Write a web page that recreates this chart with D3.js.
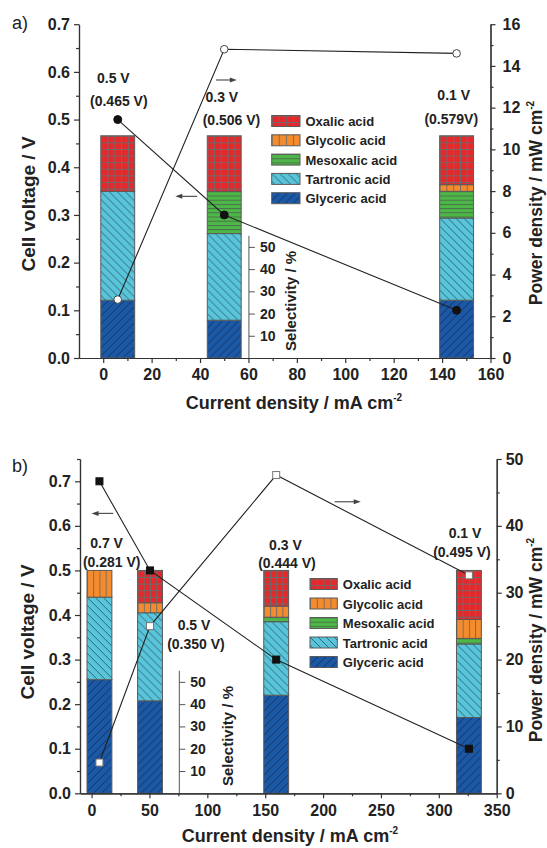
<!DOCTYPE html>
<html><head><meta charset="utf-8">
<script src="https://cdn.jsdelivr.net/npm/d3@7"></script>
<style>
body{margin:0;background:#fff}
text{font-family:"Liberation Sans",Arial,Helvetica,sans-serif;fill:#222}
</style>
</head><body>
<svg id="c" width="547" height="848"></svg>
<script>
// ---------------- DATA ----------------
const acidNames = ["Glyceric acid","Tartronic acid","Mesoxalic acid","Glycolic acid","Oxalic acid"];
const legendOrder = ["Oxalic acid","Glycolic acid","Mesoxalic acid","Tartronic acid","Glyceric acid"];

// Panel a
const aCurrent   = [6, 50, 146];          // mA cm-2
const aVoltage   = [0.5, 0.3, 0.1];       // V
const aPower     = [2.8, 14.8, 14.6];     // mW cm-2
const aGlyceric  = [26, 17, 26];          // selectivity %
const aTartronic = [49, 39, 37];
const aMesoxalic = [0, 19, 12];
const aGlycolic  = [0, 0, 3];
const aOxalic    = [25, 25, 22];
const aLabel1    = ["0.5 V", "0.3 V", "0.1 V"];
const aLabel2    = ["(0.465 V)", "(0.506 V)", "(0.579V)"];
const aLabelX    = [4.2, 49, 144.8];
const aLabelV    = [0.577, 0.537, 0.541];
const aLabel2X   = [6.45, 53, 143.8];
const aXTicks    = [0, 20, 40, 60, 80, 100, 120, 140, 160];
const aYTicks    = [0.0, 0.1, 0.2, 0.3, 0.4, 0.5, 0.6, 0.7];
const aY2Ticks   = [0, 2, 4, 6, 8, 10, 12, 14, 16];

// Panel b
const bCurrent   = [6.8, 50.5, 159.5, 326];
const bVoltage   = [0.7, 0.5, 0.3, 0.1];
const bPower     = [4.6, 25, 47.6, 32.6];
const bGlyceric  = [51, 41.5, 44, 34];
const bTartronic = [37, 39.5, 33, 33];
const bMesoxalic = [0, 0, 2, 2.5];
const bGlycolic  = [12, 4.5, 5, 8.5];
const bOxalic    = [0, 14.5, 16, 22];
const bLabel1    = ["0.7 V", "0.5 V", "0.3 V", "0.1 V"];
const bLabel2    = ["(0.281 V)", "(0.350 V)", "(0.444 V)", "(0.495 V)"];
const bLabelX    = [13, 88.5, 167.5, 322.6];
const bLabelV    = [0.55, 0.366, 0.546, 0.572];
const bLabel2X   = [17.4, 90.2, 168.8, 320];
const bXTicks    = [0, 50, 100, 150, 200, 250, 300, 350];
const bYTicks    = [0.0, 0.1, 0.2, 0.3, 0.4, 0.5, 0.6, 0.7];
const bY2Ticks   = [0, 10, 20, 30, 40, 50];

const selTicks = [10, 20, 30, 40, 50];

// ---------------- STYLE ----------------
const acidStyle = {
  "Glyceric acid":  {color:"#1b58a6", hatch:"fslash"},
  "Tartronic acid": {color:"#58c5da", hatch:"bslash"},
  "Mesoxalic acid": {color:"#4db848", hatch:"horiz"},
  "Glycolic acid":  {color:"#f48b2c", hatch:"vert"},
  "Oxalic acid":    {color:"#e5282b", hatch:"grid"}
};

const svg = d3.select("#c");
const defs = svg.append("defs");
let pidCount = 0;
function makePattern(acid, ox, oy, cell){
  const st = acidStyle[acid];
  const id = "pt" + (pidCount++);
  let w = 8, h = 8;
  if (st.hatch === "grid") { w = cell; h = 6.6; }
  if (st.hatch === "vert") { w = cell; h = 10; }
  if (st.hatch === "horiz") { w = 10; h = 4.2; }
  const p = defs.append("pattern").attr("id", id)
    .attr("patternUnits","userSpaceOnUse")
    .attr("x", ox).attr("y", oy).attr("width", w).attr("height", h);
  p.append("rect").attr("width", w).attr("height", h).attr("fill", st.color);
  let d = "", stroke = "#6b6b6b", sw = 0.9;
  if (st.hatch === "grid") d = `M0,0.5H${w}M0.5,0V${h}`;
  if (st.hatch === "vert") d = `M0.5,0V${h}`;
  if (st.hatch === "horiz") { d = `M0,0.5H${w}`; stroke = "#4a6a4a"; }
  if (st.hatch === "bslash") { d = "M0,0L8,8M-2,6L2,10M6,-2L10,2"; stroke = "#2f4f5a"; sw = 0.8; }
  if (st.hatch === "fslash") { d = "M0,8L8,0M-2,2L2,-2M6,10L10,6"; stroke = "#10284a"; sw = 0.8; }
  p.append("path").attr("d", d).attr("stroke", stroke).attr("stroke-width", sw).attr("fill","none");
  return id;
}

function drawPanel(P){
  const g = svg.append("g");
  const x  = d3.scaleLinear().domain(P.xDomain).range([P.left, P.right]);
  const y  = d3.scaleLinear().domain(P.yDomain).range([P.bottom, P.top]);
  const y2 = d3.scaleLinear().domain(P.y2Domain).range([P.bottom, P.top]);
  const s  = d3.scaleLinear().domain([0, 100]).range([P.bottom, y(P.barTopV)]);

  // bars
  P.current.forEach((c, i) => {
    const x0 = x(c - P.barW/2), x1 = x(c + P.barW/2);
    let cum = 0;
    acidNames.forEach((acid, k) => {
      const v = P.sel[k][i];
      if (!v) return;
      const yt = s(cum + v), yb = s(cum);
      cum += v;
      const pid = makePattern(acid, x0, yt, (x1 - x0) / P.cells);
      g.append("rect").attr("x", x0).attr("y", yt).attr("width", x1 - x0).attr("height", yb - yt)
        .attr("fill", `url(#${pid})`).attr("stroke", "#5a5a5a").attr("stroke-width", 1);
    });
  });

  const axisStyle = sel => {
    sel.selectAll("path,line").attr("stroke", "#333").attr("stroke-width", 1.2);
    sel.selectAll("text").attr("font-size", 16).attr("font-weight", "bold").attr("fill", "#222");
  };
  const minor = (ticks) => { const m = []; for (let i = 0; i < ticks.length - 1; i++) m.push((ticks[i] + ticks[i+1]) / 2); return m; };

  // x axis
  g.append("g").attr("transform", `translate(0,${P.bottom})`)
    .call(d3.axisBottom(x).tickValues(minor(P.xTicks).concat(P.extraXMinor)).tickSize(3).tickFormat("").tickSizeOuter(0)).call(axisStyle);
  g.append("g").attr("transform", `translate(0,${P.bottom})`)
    .call(d3.axisBottom(x).tickValues(P.xTicks).tickSize(5).tickPadding(6).tickFormat(d3.format("d")).tickSizeOuter(0)).call(axisStyle);
  // left axis
  g.append("g").attr("transform", `translate(${P.left},0)`)
    .call(d3.axisLeft(y).tickValues(minor(P.yTicks).concat(P.extraYMinor)).tickSize(3).tickFormat("").tickSizeOuter(0)).call(axisStyle);
  g.append("g").attr("transform", `translate(${P.left},0)`)
    .call(d3.axisLeft(y).tickValues(P.yTicks).tickSize(5).tickPadding(4).tickFormat(d3.format(".1f")).tickSizeOuter(0)).call(axisStyle);
  // right axis
  g.append("g").attr("transform", `translate(${P.right},0)`)
    .call(d3.axisRight(y2).tickValues(minor(P.y2Ticks)).tickSize(3).tickFormat("").tickSizeOuter(0)).call(axisStyle);
  g.append("g").attr("transform", `translate(${P.right},0)`)
    .call(d3.axisRight(y2).tickValues(P.y2Ticks).tickSize(5).tickPadding(P.y2Pad).tickFormat(d3.format("d")).tickSizeOuter(0)).call(axisStyle);

  // selectivity axis
  const sAxisG = g.append("g").attr("transform", `translate(${x(P.selX)},0)`);
  sAxisG.append("line").attr("x1", 0).attr("x2", 0).attr("y1", P.bottom).attr("y2", s(55))
    .attr("stroke", "#555").attr("stroke-width", 1);
  sAxisG.call(d3.axisRight(s).tickValues(selTicks).tickSize(6).tickPadding(5).tickSizeOuter(0))
    .call(sel => {
      sel.select(".domain").remove();
      sel.selectAll("line").attr("stroke", "#555").attr("stroke-width", 1);
      sel.selectAll("text").attr("font-size", 14).attr("font-weight", "bold").attr("fill", "#222");
    });
  g.append("text").attr("transform", `translate(${x(P.selX) + P.selTitleDx},${(P.bottom + s(55)) / 2 + 4}) rotate(-90)`)
    .attr("text-anchor", "middle").attr("font-size", 15).attr("font-weight", "bold").text("Selectivity / %");

  // lines
  const lineV = d3.line().x((d, i) => x(P.current[i])).y(d => y(d));
  const lineP = d3.line().x((d, i) => x(P.current[i])).y(d => y2(d));
  g.append("path").attr("d", lineV(P.voltage)).attr("fill", "none").attr("stroke", "#222").attr("stroke-width", 1.1);
  g.append("path").attr("d", lineP(P.power)).attr("fill", "none").attr("stroke", "#222").attr("stroke-width", 1.1);

  // markers
  if (P.marker === "circle") {
    g.selectAll(null).data(P.voltage).enter().append("circle")
      .attr("cx", (d, i) => x(P.current[i])).attr("cy", d => y(d)).attr("r", 4)
      .attr("fill", "#111").attr("stroke", "#111");
    g.selectAll(null).data(P.power).enter().append("circle")
      .attr("cx", (d, i) => x(P.current[i])).attr("cy", d => y2(d)).attr("r", 3.8)
      .attr("fill", "#fff").attr("stroke", "#444").attr("stroke-width", 1);
  } else {
    g.selectAll(null).data(P.voltage).enter().append("rect")
      .attr("x", (d, i) => x(P.current[i]) - 3.5).attr("y", d => y(d) - 3.5).attr("width", 7).attr("height", 7)
      .attr("fill", "#111").attr("stroke", "#111");
    g.selectAll(null).data(P.power).enter().append("rect")
      .attr("x", (d, i) => x(P.current[i]) - 3.5).attr("y", d => y2(d) - 3.5).attr("width", 7).attr("height", 7)
      .attr("fill", "#fff").attr("stroke", "#777").attr("stroke-width", 1);
  }

  // annotations
  P.label1.forEach((t, i) => {
    g.append("text").attr("x", x(P.labelX[i])).attr("y", y(P.labelV[i])).attr("text-anchor", "middle")
      .attr("font-size", 14).attr("font-weight", "bold").text(t);
    g.append("text").attr("x", x(P.label2X[i])).attr("y", y(P.labelV[i]) + P.labelGap).attr("text-anchor", "middle")
      .attr("font-size", 14).attr("font-weight", "bold").text(P.label2[i]);
  });

  // arrows
  P.arrows.forEach(a => {
    const xa = x(a[0]), xb = x(a[1]), ya = y(a[2]);
    const dir = Math.sign(xb - xa);
    g.append("line").attr("x1", xa).attr("x2", xb - dir * 5).attr("y1", ya).attr("y2", ya)
      .attr("stroke", "#444").attr("stroke-width", 1.1);
    g.append("path").attr("d", `M${xb},${ya}L${xb - dir * 7},${ya - 2.5}L${xb - dir * 7},${ya + 2.5}Z`).attr("fill", "#444");
  });

  // legend
  legendOrder.forEach((acid, i) => {
    const cy = P.legY + i * P.legDy;
    const pid = makePattern(acid, P.legX, cy - 5.5, P.legW / 4);
    g.append("rect").attr("x", P.legX).attr("y", cy - 5.5).attr("width", P.legW).attr("height", 11)
      .attr("fill", `url(#${pid})`).attr("stroke", "#5a5a5a").attr("stroke-width", 1);
    g.append("text").attr("x", P.legX + P.legW + 5.5).attr("y", cy + 5).attr("font-size", 13)
      .attr("font-weight", "bold").text(acid);
  });

  // titles
  const xt = g.append("text").attr("x", P.xTitleX).attr("y", P.xTitleY).attr("text-anchor", "middle")
    .attr("font-size", 18).attr("font-weight", "bold");
  xt.append("tspan").text("Current density / mA cm");
  xt.append("tspan").attr("dy", -8).attr("font-size", 10).text("-2");

  g.append("text").attr("transform", `translate(${P.yTitleX},${P.yTitleY}) rotate(-90)`)
    .attr("text-anchor", "middle").attr("font-size", 19).attr("font-weight", "bold").text("Cell voltage / V");

  const yt2 = g.append("text").attr("transform", `translate(${P.y2TitleX},${P.y2TitleY}) rotate(-90)`)
    .attr("text-anchor", "middle").attr("font-size", 17.5).attr("font-weight", "bold");
  yt2.append("tspan").text("Power density / mW cm");
  yt2.append("tspan").attr("dy", -8).attr("font-size", 10).text("-2");

  g.append("text").attr("x", 12).attr("y", P.tagY).attr("font-size", 18).text(P.tag);
}

drawPanel({
  tag: "a)", tagY: 29,
  left: 79, right: 490.5, top: 24.2, bottom: 358,
  xDomain: [-10, 160], yDomain: [0, 0.7], y2Domain: [0, 16],
  xTicks: aXTicks, yTicks: aYTicks, y2Ticks: aY2Ticks, extraXMinor: [], extraYMinor: [],
  y2Pad: 7,
  barTopV: 0.466, barW: 14, cells: 5,
  current: aCurrent, voltage: aVoltage, power: aPower,
  sel: [aGlyceric, aTartronic, aMesoxalic, aGlycolic, aOxalic],
  selX: 60.2, selTitleDx: 47,
  marker: "circle",
  label1: aLabel1, label2: aLabel2, labelX: aLabelX, label2X: aLabel2X, labelV: aLabelV, labelGap: 23.5,
  arrows: [[46.6, 55.2, 0.583], [38.8, 29.8, 0.339]],
  legX: 271.7, legY: 121, legDy: 19.3, legW: 28.3,
  xTitleX: 294, xTitleY: 409,
  yTitleX: 35, yTitleY: 204,
  y2TitleX: 542, y2TitleY: 203
});

drawPanel({
  tag: "b)", tagY: 472,
  left: 80, right: 496.7, top: 459, bottom: 793.3,
  xDomain: [-10, 350], yDomain: [0, 0.75], y2Domain: [0, 50],
  xTicks: bXTicks, yTicks: bYTicks, y2Ticks: bY2Ticks, extraXMinor: [], extraYMinor: [0.75],
  y2Pad: 4,
  barTopV: 0.5, barW: 21.5, cells: 4,
  current: bCurrent, voltage: bVoltage, power: bPower,
  sel: [bGlyceric, bTartronic, bMesoxalic, bGlycolic, bOxalic],
  selX: 75.8, selTitleDx: 54,
  marker: "square",
  label1: bLabel1, label2: bLabel2, labelX: bLabelX, label2X: bLabel2X, labelV: bLabelV, labelGap: 18.5,
  arrows: [[18.8, 0, 0.628], [210, 232.5, 0.654]],
  legX: 310, legY: 584, legDy: 19.5, legW: 27.3,
  xTitleX: 290, xTitleY: 842,
  yTitleX: 34, yTitleY: 632,
  y2TitleX: 542, y2TitleY: 640
});
</script>
</body></html>
